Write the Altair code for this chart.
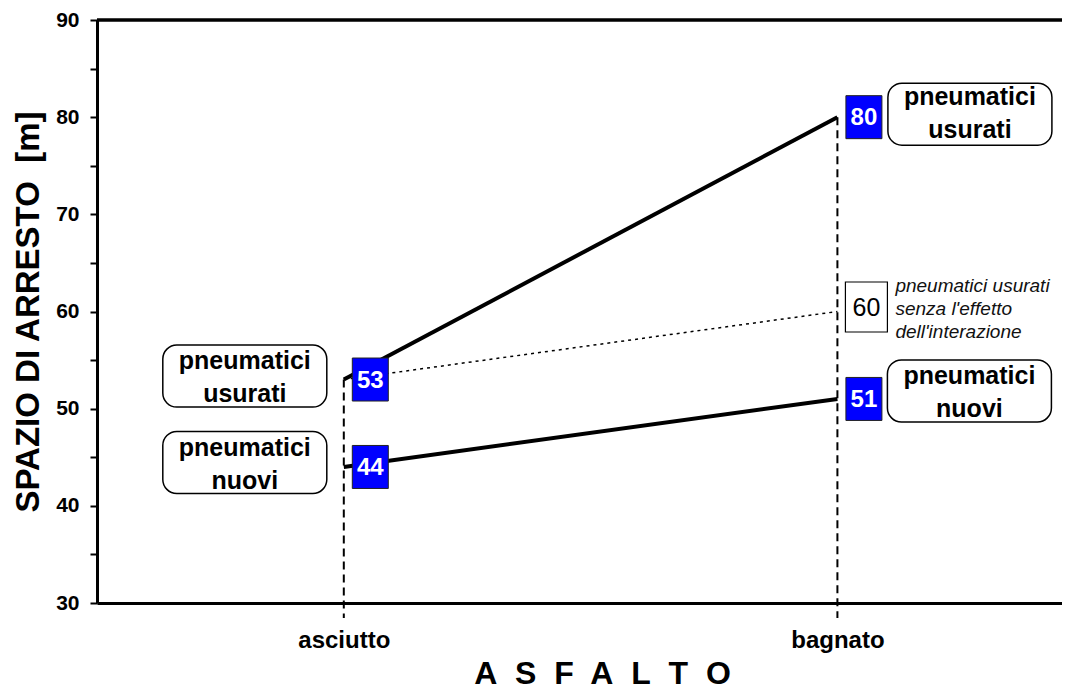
import altair as alt
import pandas as pd

# ---- data ----
categories = ["asciutto", "bagnato"]
positions = [1, 2]
usurati = [53, 80]
nuovi = [44, 51]
senza_interazione = [53, 60]
y_ticks = [30, 35, 40, 45, 50, 55, 60, 65, 70, 75, 80, 85, 90]
series_names = ["pneumatici\nusurati", "pneumatici\nnuovi"]
note_text = "pneumatici usurati\nsenza l'effetto\ndell'interazione"
x_title_letters = list("ASFALTO")

FONT = "Liberation Sans, Arial, Helvetica, sans-serif"
W, H = 965, 583
NB = "\u00a0"

lines_df = pd.DataFrame({
    "pos": positions * 2,
    "val": usurati + nuovi,
    "serie": ["usurati"] * 2 + ["nuovi"] * 2,
})
dotted_df = pd.DataFrame({"pos": positions, "val": senza_interazione})
guides_df = pd.DataFrame({"pos": positions, "val": [max(usurati[0], nuovi[0]), max(usurati[1], nuovi[1])]})
valbox_df = pd.DataFrame({
    "pos": positions * 2,
    "val": usurati + nuovi,
    "label": [str(v) for v in usurati + nuovi],
})
interaz_df = pd.DataFrame({"pos": [positions[1]], "val": [senza_interazione[1]],
                           "label": [str(senza_interazione[1])], "note": [note_text]})

cat_expr = "[" + ",".join("'" + c + "'" for c in categories) + "][datum.value - 1]"

x_enc = alt.X(
    "pos:Q",
    scale=alt.Scale(domain=[0.5, 2.455], nice=False, zero=False),
    axis=alt.Axis(
        values=positions, labelExpr=cat_expr, ticks=False, grid=False,
        domainColor="black", domainWidth=3,
        labelFont=FONT, labelFontSize=24, labelFontWeight="bold", labelColor="black",
        labelPadding=25, labelFlush=False, labelOverlap=False,
        title=(NB + " ").join(x_title_letters), titleFont=FONT, titleFontSize=32,
        titleFontWeight="bold", titleColor="black", titleX=505, titleY=80,
        titleBaseline="alphabetic", titleAlign="center",
    ),
)
y_enc = alt.Y(
    "val:Q",
    scale=alt.Scale(domain=[30, 90], nice=False, zero=False),
    axis=alt.Axis(
        values=y_ticks, labelExpr="datum.value % 10 == 0 ? datum.label : ''",
        tickSize=7, tickWidth=2, tickColor="black", grid=False,
        domainColor="black", domainWidth=3,
        labelFont=FONT, labelFontSize=21, labelFontWeight="bold", labelColor="black",
        labelPadding=11,
        title="SPAZIO DI ARRESTO" + NB + NB + "[m]", titleFont=FONT, titleFontSize=33,
        titleFontWeight="bold", titleColor="black", titleX=-59, titleY=291.5, titleAngle=270,
        titleBaseline="alphabetic", titleAlign="center",
    ),
)

frame_top = alt.Chart(dotted_df).mark_rule(color="black", strokeWidth=3).encode(
    x=alt.value(0), x2=alt.value(W), y=alt.value(0)
)

dotted = alt.Chart(dotted_df).mark_line(color="black", strokeWidth=1.5, strokeDash=[3, 4]).encode(
    x=x_enc, y=y_enc
)

guides = alt.Chart(guides_df).mark_rule(color="black", strokeWidth=2, strokeDash=[8, 5]).encode(
    x=x_enc, y=y_enc, y2=alt.value(H + 15)
)

main_lines = alt.Chart(lines_df).mark_line(color="black", strokeWidth=4).encode(
    x=x_enc, y=y_enc, detail="serie:N"
)

val_boxes = alt.Chart(valbox_df).mark_rect(
    width=36, height=43, fill="#0000FF", stroke="#222222", strokeWidth=1, xOffset=26.5
).encode(x=x_enc, y=y_enc)
val_text = alt.Chart(valbox_df).mark_text(
    font=FONT, fontSize=24, fontWeight="bold", color="white", dx=26.5, dy=1, baseline="middle"
).encode(x=x_enc, y=y_enc, text="label:N")

int_box = alt.Chart(interaz_df).mark_rect(
    width=42, height=50, fill="white", stroke="black", strokeWidth=1.2, xOffset=29, yOffset=-4.5
).encode(x=x_enc, y=y_enc)
int_text = alt.Chart(interaz_df).mark_text(
    font=FONT, fontSize=25, color="black", dx=29, dy=-3.5, baseline="middle"
).encode(x=x_enc, y=y_enc, text="label:N")
note = alt.Chart(interaz_df).mark_text(
    font=FONT, fontSize=19, fontStyle="italic", color="#111111", align="left",
    baseline="alphabetic", dx=58, dy=-19.5, lineBreak="\n", lineHeight=23
).encode(x=x_enc, y=y_enc, text="note:N")


def label_box(pos, val, text, bx, by, ty):
    df = pd.DataFrame({"pos": [pos], "val": [val], "label": [text]})
    box = alt.Chart(df).mark_rect(
        width=164, height=62, cornerRadius=14, fill="white", stroke="black",
        strokeWidth=1.5, xOffset=bx, yOffset=by
    ).encode(x=x_enc, y=y_enc)
    txt = alt.Chart(df).mark_text(
        font=FONT, fontSize=25, fontWeight="bold", color="black", baseline="alphabetic",
        dx=bx, dy=ty, lineBreak="\n", lineHeight=33
    ).encode(x=x_enc, y=y_enc, text="label:N")
    return box + txt


lb1 = label_box(positions[0], usurati[0], series_names[0], -99, -3.5, -10.5)
lb2 = label_box(positions[0], nuovi[0], series_names[1], -99, -4.5, -11)
lb3 = label_box(positions[1], usurati[1], series_names[0], 132.5, -3, -12)
lb4 = label_box(positions[1], nuovi[1], series_names[1], 132, -8, -15)

chart = alt.layer(
    frame_top, dotted, guides, main_lines, val_boxes, val_text, int_box, int_text, note,
    lb1, lb2, lb3, lb4
).properties(
    width=W, height=H,
    autosize=alt.AutoSizeParams(type="none"),
    padding={"left": 89, "top": 12, "right": 0, "bottom": 95},
    background="white",
).configure_view(stroke=None)

chart.save("out.html", embed_options={"renderer": "svg", "actions": False})
